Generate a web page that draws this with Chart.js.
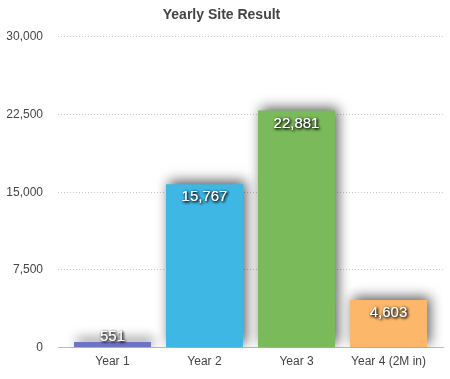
<!DOCTYPE html>
<html><head><meta charset="utf-8">
<script src="https://cdn.jsdelivr.net/npm/chart.js@4/dist/chart.umd.min.js"></script>
<style>html,body{margin:0;padding:0;background:#fff}#wrap{width:450px;height:379px}</style>
</head><body><div id="wrap"><canvas id="c"></canvas></div>
<script>
const categories = ['Year 1', 'Year 2', 'Year 3', 'Year 4 (2M in)'];
const values = [551, 15767, 22881, 4603];
const barColors = ['#6f73c3', '#3eb7e5', '#7aba5a', '#fdb76a'];
const yTicks = [0, 7500, 15000, 22500, 30000];
const titleText = 'Yearly Site Result';

const FONT = '"Liberation Sans", Arial, Helvetica, sans-serif';

const shadowPlugin = {
  id: 'shadowBars',
  beforeDatasetsDraw(chart) {
    const ctx = chart.ctx;
    ctx.save();
    ctx.shadowColor = 'rgba(0,0,0,0.65)';
    ctx.shadowBlur = 12;
    ctx.shadowOffsetX = 3;
    ctx.shadowOffsetY = -3;
  },
  afterDatasetsDraw(chart) {
    const ctx = chart.ctx;
    ctx.restore();
    const meta = chart.getDatasetMeta(0);
    const base = chart.scales.y.getPixelForValue(0);
    ctx.save();
    ctx.font = '15px ' + FONT;
    ctx.fillStyle = '#fff';
    ctx.textAlign = 'center';
    ctx.textBaseline = 'middle';
    ctx.shadowColor = 'rgba(0,0,0,0.95)';
    ctx.shadowBlur = 3;
    ctx.shadowOffsetX = 1;
    ctx.shadowOffsetY = 1;
    meta.data.forEach((bar, i) => {
      const y = Math.min(bar.y + 13, base - 11);
      const t = values[i].toLocaleString('en-US');
      ctx.fillText(t, bar.x, y);
      ctx.fillText(t, bar.x, y);
    });
    ctx.restore();
  }
};

new Chart(document.getElementById('c'), {
  type: 'bar',
  data: {
    datasets: [{
      data: values.map((v, i) => ({ x: i, y: v })),
      backgroundColor: barColors,
      borderWidth: 0,
      categoryPercentage: 0.837,
      barPercentage: 1
    }]
  },
  options: {
    responsive: true,
    maintainAspectRatio: false,
    animation: false,
    layout: { padding: { left: 0, right: 7, top: 5, bottom: 3 } },
    plugins: {
      legend: { display: false },
      tooltip: { enabled: false },
      title: {
        display: true,
        text: titleText,
        color: '#444',
        font: { family: FONT, size: 14, weight: 'bold' },
        padding: { top: 2, bottom: 13 }
      }
    },
    scales: {
      x: {
        type: 'linear',
        offset: false,
        min: -0.592,
        max: 3.592,
        afterBuildTicks(scale) { scale.ticks = categories.map((c, i) => ({ value: i })); },
        grid: { display: false, drawTicks: false, offset: false },
        border: { display: true, color: '#bbb', width: 1 },
        ticks: {
          color: '#444',
          font: { family: FONT, size: 12 },
          padding: 7,
          autoSkip: false,
          maxRotation: 0,
          callback: v => categories[v]
        }
      },
      y: {
        min: 0, max: 30000,
        afterBuildTicks(scale) { scale.ticks = yTicks.map(v => ({ value: v })); },
        afterFit(scale) { scale.width = 58; },
        grid: {
          drawTicks: false,
          color: c => c.tick && c.tick.value === 0 ? '#bbb' : '#c8c8c8',
          lineWidth: 1
        },
        border: { display: false, dash: c => (c.tick && c.tick.value === 0) ? [] : [1, 2] },
        ticks: {
          color: '#444',
          font: { family: FONT, size: 12 },
          padding: 15,
          callback: v => v.toLocaleString('en-US')
        }
      }
    }
  },
  plugins: [shadowPlugin]
});
</script>
</body></html>
